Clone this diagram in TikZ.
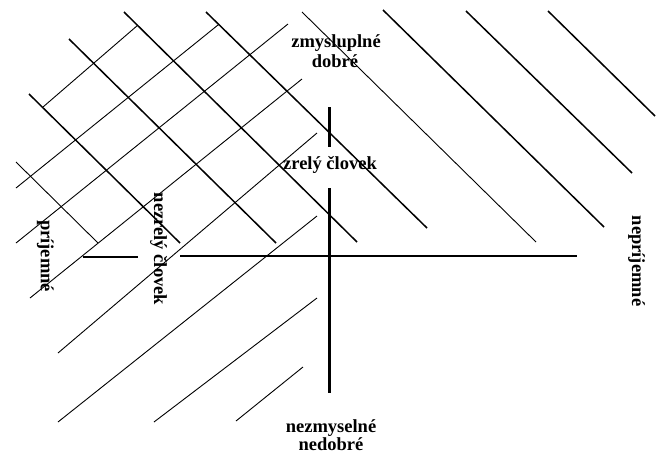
\documentclass[tikz,border=0pt]{standalone}
\usepackage{fontspec}
\setmainfont{Liberation Serif}
\begin{document}
\begin{tikzpicture}[x=1pt,y=-1pt,
  thick line/.style={line width=1.5pt},
  thin line/.style={line width=0.9pt},
  axis/.style={line width=2.2pt},
  lbl/.style={font=\bfseries\fontsize{18.5}{20}\selectfont, inner sep=0pt, anchor=base},
  vlbl/.style={lbl, rotate=-90}]
\useasboundingbox (0,0) rectangle (657,453);
% descending lines
\draw[thin line] (16,162) -- (98,243);
\draw[thick line] (29,94) -- (180,243);
\draw[thick line] (69,39) -- (276,243);
\draw[thick line] (124,12) -- (357,242);
\draw[thick line] (206,12) -- (427,228);
\draw[thin line] (302,12) -- (536,242);
\draw[thick line] (383,10) -- (604,227);
\draw[thick line] (466,11) -- (632,173);
\draw[thick line] (548,11) -- (655,116);
% ascending lines
\draw[thin line] (43,107) -- (138,25);
\draw[thin line] (16,188) -- (218,25);
\draw[thin line] (16,243) -- (288,24);
\draw[thin line] (30,298) -- (302,79);
\draw[thin line] (58,353) -- (317,133);
\draw[thin line] (58,422) -- (317,216);
\draw[thin line] (154,422) -- (317,298);
\draw[thin line] (236,421) -- (303,367);
% axes
\draw[axis] (83,257) -- (138,257);
\draw[axis] (180,256) -- (577,256);
\draw[axis] (329.5,107) -- (329.5,147);
\draw[axis] (329.5,188) -- (329.5,393);
% labels
\node[lbl] (t1) at (336,47) {zmysluplné};
\node[lbl] (t2) at (335,67) {dobré};
\node[lbl] (m) at (330,169) {zrelý človek};
\node[lbl] (b1) at (331,432) {nezmyselné};
\node[lbl] (b2) at (331,450) {nedobré};
\node[vlbl] (l) at (41,256) {príjemné};
\node[vlbl] (nz) at (154,249) {nezrelý človek};
\node[vlbl] (r) at (632,261) {nepríjemné};
\end{tikzpicture}
\end{document}
